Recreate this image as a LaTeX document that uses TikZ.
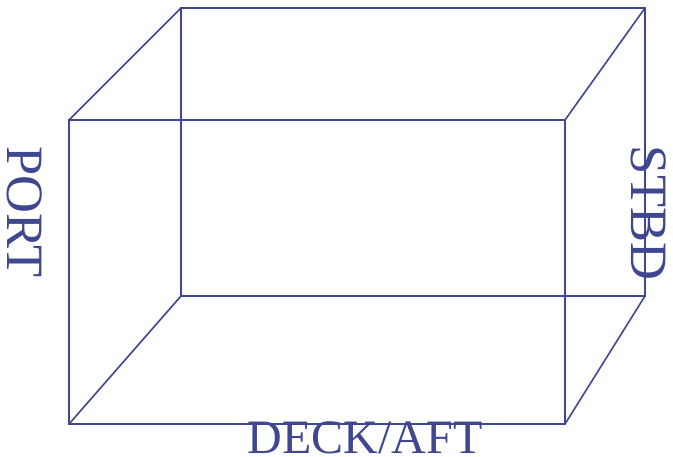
\documentclass[tikz,border=0pt]{standalone}
\usepackage{fontspec}
\setmainfont{Liberation Serif}
\definecolor{ink}{HTML}{3F4790}
\tikzset{edge/.style={draw=ink,line width=1.6pt,line join=miter},
lab/.style={text=ink,inner sep=0pt,anchor=center},
sidelab/.style={lab,rotate=-90,font=\fontsize{52.5}{54}\selectfont},
bottomlab/.style={lab,font=\fontsize{48}{50}\selectfont}}
\begin{document}
\begin{tikzpicture}[x=1pt,y=-1pt]
\useasboundingbox (0,0) rectangle (673,456);
\coordinate (fa) at (69,120);\coordinate (fb) at (565,120);\coordinate (fc) at (565,424);\coordinate (fd) at (69,424);
\coordinate (ba) at (181,8);\coordinate (bb) at (645,8);\coordinate (bc) at (645,296);\coordinate (bd) at (181,296);
\draw[edge] (fa)--(fb)--(fc)--(fd)--cycle;
\draw[edge] (ba)--(bb)--(bc)--(bd)--cycle;
\draw[edge] (fa)--(ba) (fb)--(bb) (fc)--(bc) (fd)--(bd);
\node[sidelab] (port) at (25,212) {PORT};
\node[sidelab] (stbd) at (648.5,213) {STBD};
\node[bottomlab] (deck) at (365,437.5) {DECK/AFT};
\end{tikzpicture}
\end{document}
